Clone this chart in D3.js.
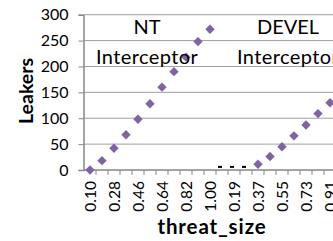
<!doctype html>
<html>
<head>
<style>
  body { margin: 0; background: #fff; }
  text { font-family: Lato, "Open Sans", sans-serif; fill: #000; }
</style>
<script src="https://d3js.org/d3.v7.min.js"></script>
</head>
<body>
<svg width="333" height="241"></svg>
<script>
// threat_size categories, one run per group
var groups = ["NT", "DEVEL"];
var sizes = ["0.10", "0.19", "0.28", "0.37", "0.46", "0.55", "0.64", "0.73", "0.82", "0.91", "1.00"];

// Leakers, purple diamonds
var ntLeakers = [0, 18, 42, 68, 98, 128, 160, 190, 218, 248, 272];
var develLeakers = [null, null, null, 11, 26, 45, 66, 87, 109, 130, null];
// small black dash markers near zero
var develOther = [6, 6, 6, null, null, null, null, null, null, null, null];

var yTicks = [0, 50, 100, 150, 200, 250, 300];

var svg = d3.select("svg"),
    plotLeft = 84, plotTop = 14.7, plotBottom = 170,
    step = 12;

var cats = [];
groups.forEach(function(g) {
  sizes.forEach(function(s) { cats.push(g + "|" + s); });
});

var x = d3.scaleBand().domain(cats).range([plotLeft, plotLeft + step * cats.length]);
var y = d3.scaleLinear().domain([0, 300]).range([plotBottom, plotTop]);

// gridlines
svg.append("g").selectAll("line")
  .data(yTicks.slice(1))
  .enter().append("line")
  .attr("x1", plotLeft).attr("x2", 333)
  .attr("y1", function(d) { return y(d); })
  .attr("y2", function(d) { return y(d); })
  .attr("stroke", "#a0a0a0").attr("stroke-width", 1);

// y axis
var yAxis = svg.append("g")
  .attr("transform", "translate(" + (plotLeft - 0.5) + ",0)")
  .call(d3.axisLeft(y).tickValues(yTicks).tickSize(5).tickPadding(10));
yAxis.select(".domain").attr("stroke", "#868686").attr("stroke-width", 1.5);
yAxis.selectAll(".tick line").attr("stroke", "#868686");
yAxis.selectAll(".tick text").attr("font-size", 16).attr("font-family", "Lato").attr("fill", "#000");

// x axis: ticks at category boundaries
var xAxis = svg.append("g").attr("transform", "translate(0," + plotBottom + ")");
xAxis.append("line").attr("x1", plotLeft).attr("x2", 333).attr("stroke", "#868686").attr("stroke-width", 1.5);
xAxis.selectAll("line.tk")
  .data(cats)
  .enter().append("line").attr("class", "tk")
  .attr("x1", function(d) { return x(d) + step; })
  .attr("x2", function(d) { return x(d) + step; })
  .attr("y1", 0).attr("y2", 5)
  .attr("stroke", "#868686");
xAxis.selectAll("text")
  .data(cats.filter(function(d, i) { return i % 2 === 0; }))
  .enter().append("text")
  .attr("transform", function(d) {
    return "translate(" + (x(d) + step / 2 + 5.5) + ",11) rotate(-90)";
  })
  .attr("text-anchor", "end")
  .attr("font-size", 15.5)
  .text(function(d) { return d.split("|")[1]; });

// series
var diamond = d3.symbol().type(d3.symbolSquare).size(44);
function points(values, group) {
  return values.map(function(v, i) { return { c: group + "|" + sizes[i], v: v }; })
    .filter(function(d) { return d.v !== null; });
}
var purple = points(ntLeakers, "NT").concat(points(develLeakers, "DEVEL"));
svg.append("g").selectAll("path")
  .data(purple)
  .enter().append("path")
  .attr("d", diamond)
  .attr("transform", function(d) {
    return "translate(" + (x(d.c) + step / 2) + "," + y(d.v) + ") rotate(45)";
  })
  .attr("fill", "#8064a2");

svg.append("g").selectAll("rect")
  .data(points(develOther, "DEVEL"))
  .enter().append("rect")
  .attr("x", function(d) { return x(d.c) + step / 2 - 4; })
  .attr("y", function(d) { return y(d.v) - 1; })
  .attr("width", 4).attr("height", 2)
  .attr("fill", "#000");

// group annotations
function annotate(group, cx) {
  svg.append("text").attr("x", cx).attr("y", 34).attr("text-anchor", "middle")
    .attr("font-size", 20).text(group);
  svg.append("text").attr("x", cx).attr("y", 64).attr("text-anchor", "middle")
    .attr("font-size", 20).attr("letter-spacing", 0.4).text("Interceptor");
}
annotate("NT", x("NT|0.55") + step / 2 - 3);
annotate("DEVEL", x("DEVEL|0.55") + step / 2 + 6);

// axis titles
svg.append("text")
  .attr("x", 212).attr("y", 234)
  .attr("text-anchor", "middle").attr("font-weight", "bold").attr("font-size", 20.5)
  .attr("letter-spacing", 0.9)
  .text("threat_size");
svg.append("text")
  .attr("transform", "translate(33,91) rotate(-90)")
  .attr("text-anchor", "middle").attr("font-weight", "bold").attr("font-size", 19.5)
  .text("Leakers");
</script>
</body>
</html>
